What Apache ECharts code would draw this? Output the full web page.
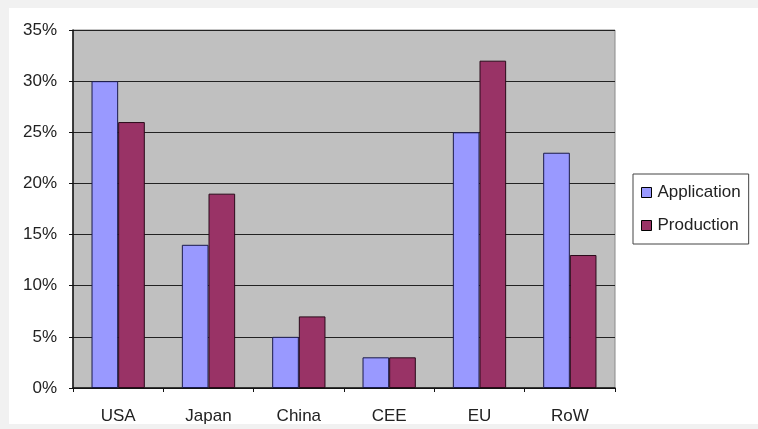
<!DOCTYPE html>
<html>
<head>
<meta charset="utf-8">
<script src="https://cdn.jsdelivr.net/npm/echarts@6/dist/echarts.min.js"></script>
<style>
  html, body { margin: 0; padding: 0; background: #f1f1f1; }
  #chart { width: 758px; height: 429px; }
</style>
</head>
<body>
<div id="chart"></div>
<script>
// Regional shares (%) for application and production
const regions = ['USA', 'Japan', 'China', 'CEE', 'EU', 'RoW'];
const application = [30, 14, 5, 3, 25, 23];
const production = [26, 19, 7, 3, 32, 13];
const seriesNames = ['Application', 'Production'];

const chart = echarts.init(document.getElementById('chart'));
const font = 'Liberation Sans, Arial, sans-serif';

chart.setOption({
  animation: false,
  backgroundColor: '#f1f1f1',
  graphic: [{
    type: 'rect',
    z: -10,
    shape: { x: 9, y: 8, width: 749, height: 416 },
    style: { fill: '#ffffff' }
  }],
  grid: {
    left: 73, top: 30, width: 542, height: 358,
    show: true,
    backgroundColor: '#c0c0c0',
    borderColor: '#8a8a8a',
    borderWidth: 1
  },
  legend: {
    orient: 'vertical',
    left: 633, top: 174,
    padding: [10, 8, 10, 8],
    itemGap: 16,
    itemWidth: 10, itemHeight: 10,
    icon: 'rect',
    borderColor: '#444',
    borderWidth: 1,
    backgroundColor: '#ffffff',
    itemStyle: { borderColor: '#000', borderWidth: 1 },
    textStyle: { fontFamily: font, fontSize: 17, color: '#222', padding: [0, 0, 0, 1] },
    data: seriesNames
  },
  xAxis: {
    type: 'category',
    data: regions,
    axisLine: { lineStyle: { color: '#111', width: 1.5 } },
    axisTick: { show: true, length: 4, lineStyle: { color: '#111' } },
    axisLabel: { fontFamily: font, fontSize: 17, color: '#222', margin: 20 }
  },
  yAxis: {
    type: 'value',
    min: 0, max: 35, interval: 5,
    axisLine: { show: true, lineStyle: { color: '#111', width: 1.5 } },
    axisTick: { show: true, length: 4, lineStyle: { color: '#111' } },
    splitLine: { lineStyle: { color: '#222', width: 1 } },
    axisLabel: {
      fontFamily: font, fontSize: 17, color: '#222', margin: 16,
      formatter: v => v + '%'
    }
  },
  series: [
    {
      name: seriesNames[0], type: 'bar', data: application,
      barGap: '0%', barCategoryGap: '41%',
      itemStyle: { color: '#9999ff', borderColor: '#1a1a4a', borderWidth: 1 }
    },
    {
      name: seriesNames[1], type: 'bar', data: production,
      barGap: '0%', barCategoryGap: '41%',
      itemStyle: { color: '#993366', borderColor: '#2a0a1a', borderWidth: 1 }
    }
  ]
});
</script>
</body>
</html>
